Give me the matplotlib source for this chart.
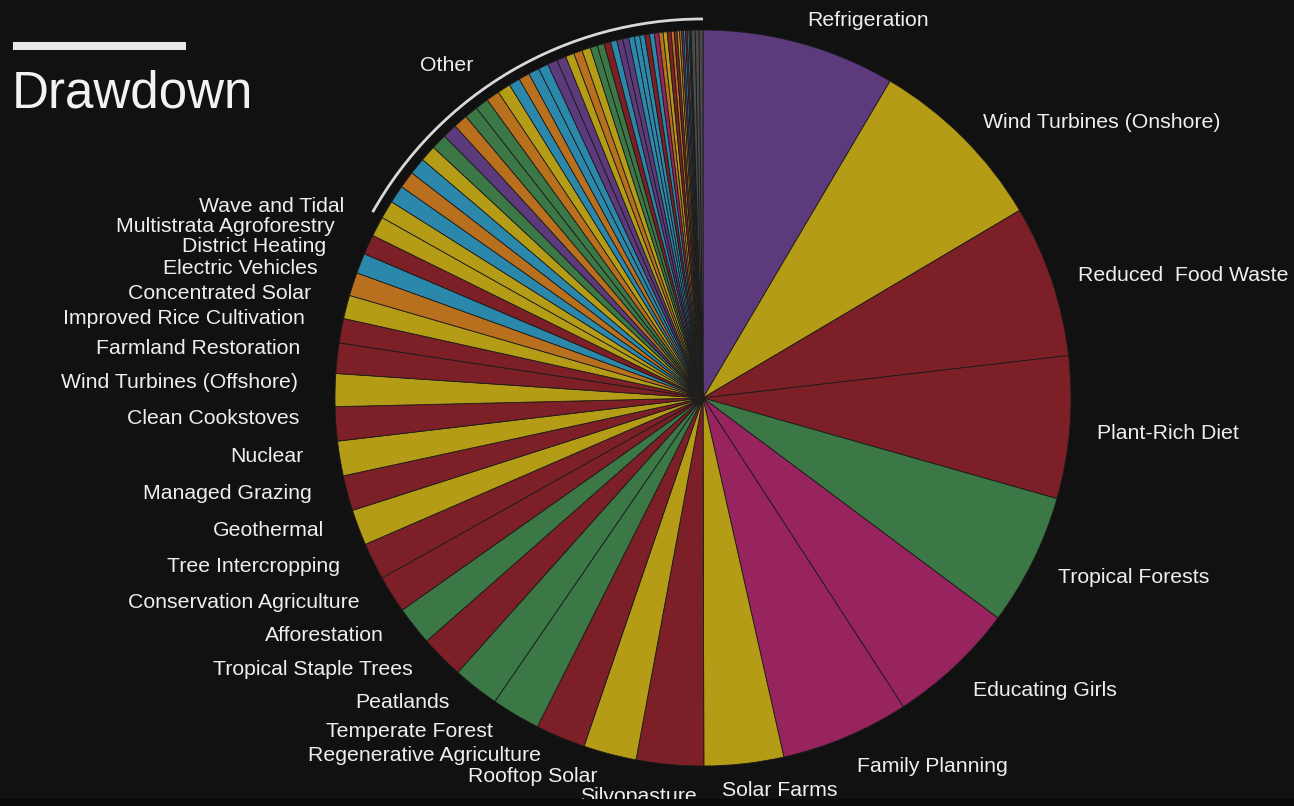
import numpy as np
import matplotlib.pyplot as plt
from matplotlib.patches import Arc, Rectangle

# labelled solutions (Gt CO2 reduced) and their sector
names = ['Refrigeration', 'Wind Turbines (Onshore)', 'Reduced  Food Waste', 'Plant-Rich Diet',
         'Tropical Forests', 'Educating Girls', 'Family Planning', 'Solar Farms', 'Silvopasture',
         'Rooftop Solar', 'Regenerative Agriculture', 'Temperate Forest', 'Peatlands',
         'Tropical Staple Trees', 'Afforestation', 'Conservation Agriculture', 'Tree Intercropping',
         'Geothermal', 'Managed Grazing', 'Nuclear', 'Clean Cookstoves', 'Wind Turbines (Offshore)',
         'Farmland Restoration', 'Improved Rice Cultivation', 'Concentrated Solar',
         'Electric Vehicles', 'District Heating', 'Multistrata Agroforestry', 'Wave and Tidal']
values = [89.74, 84.60, 70.53, 66.11, 61.23, 59.60, 59.60, 36.90, 31.19, 24.60, 23.15, 22.61,
          21.57, 20.19, 18.06, 17.35, 17.20, 16.60, 16.34, 16.09, 15.81, 15.20, 14.08, 11.34,
          10.90, 10.80, 9.38, 9.28, 9.20]
sectors = ['M', 'E', 'F', 'F', 'L', 'W', 'W', 'E', 'F', 'E', 'F', 'L', 'L', 'F', 'L', 'F', 'F',
           'E', 'F', 'E', 'F', 'E', 'F', 'F', 'E', 'T', 'B', 'F', 'E']

# the rest, grouped as "Other"
other_names = ['Methane Digesters (Large)', 'Insulation', 'Ships', 'LED Lighting (Household)',
               'Biomass', 'Bamboo', 'Alternative Cement', 'Mass Transit', 'Forest Protection',
               'Indigenous Land Management', 'Trucks', 'Solar Water', 'Heat Pumps', 'Airplanes',
               'LED Lighting (Commercial)', 'Building Automation', 'Water Saving - Home',
               'Bioplastic', 'In-Stream Hydro', 'Cars', 'Cogeneration', 'Perennial Biomass',
               'Coastal Wetlands', 'Rice Intensification', 'Walkable Cities',
               'Household Recycling', 'Industrial Recycling', 'Smart Thermostats',
               'Landfill Methane', 'Bike Infrastructure', 'Composting', 'Smart Glass',
               'Women Smallholders', 'Telepresence', 'Methane Digesters (Small)',
               'Nutrient Management', 'High-speed Rail', 'Farmland Irrigation', 'Waste-to-Energy',
               'Electric Bikes', 'Recycled Paper', 'Water Distribution', 'Biochar', 'Green Roofs',
               'Trains', 'Ridesharing', 'Micro Wind', 'Energy Storage', 'Grid Flexibility',
               'Microgrids']
other_values = [8.40, 8.27, 7.87, 7.81, 7.50, 7.22, 6.69, 6.57, 6.20, 6.19, 6.18, 6.08, 5.20,
                5.05, 5.04, 4.62, 4.61, 4.30, 4.00, 4.00, 3.97, 3.33, 3.19, 3.13, 2.92, 2.77,
                2.77, 2.62, 2.50, 2.31, 2.28, 2.19, 2.06, 1.99, 1.90, 1.81, 1.42, 1.33, 1.10,
                0.96, 0.90, 0.87, 0.81, 0.77, 0.52, 0.32, 0.20, 1.8, 1.8, 1.8]
other_sectors = ['E', 'B', 'T', 'B', 'E', 'L', 'M', 'T', 'L', 'L', 'T', 'E', 'B', 'T', 'B', 'B',
                 'M', 'M', 'E', 'T', 'E', 'L', 'L', 'F', 'B', 'M', 'M', 'B', 'B', 'B', 'F', 'B',
                 'W', 'T', 'E', 'F', 'T', 'F', 'E', 'T', 'M', 'B', 'F', 'B', 'T', 'T', 'E', 'X',
                 'X', 'X']

sector_colors = {'M': '#5c3a7c', 'E': '#b49c16', 'F': '#7c1f26', 'L': '#3b7846',
                 'W': '#97235f', 'B': '#2b88ab', 'T': '#b8701e', 'X': '#4a4a4a'}

bg = '#111111'
W, H = 1294, 806
cx, cy, R = 703, 398, 368

fig = plt.figure(figsize=(W / 100, H / 100), dpi=100, facecolor=bg)
ax = fig.add_axes([0, 0, 1, 1])
ax.set_facecolor(bg)

all_values = values + other_values
colors = [sector_colors[s] for s in sectors + other_sectors]
labels = names + [''] * len(other_values)

wedges, texts = ax.pie(all_values, colors=colors, labels=labels, startangle=90,
                       counterclock=False, labeldistance=1.075,
                       wedgeprops=dict(edgecolor='#1c1c1c', linewidth=0.6),
                       textprops=dict(color='#eeeeee', fontsize=15.3, family='Liberation Sans'))

# nudge labels a little (pixels -> data units)
px = 1.0 / R
for t in texts:
    if not t.get_text():
        continue
    x, y = t.get_position()
    if x < 0:
        t.set_position((x - 9 * px, y + 7 * px))
    else:
        t.set_position((x, y - 4 * px))

# the crowded labels at the bottom are moved by hand in the original
moved = {'Silvopasture': (697, 797, 'right'),
         'Solar Farms': (722, 790, 'left'),
         'Rooftop Solar': (597, 777, 'right')}
for t in texts:
    if t.get_text() in moved:
        mx, my, mha = moved[t.get_text()]
        t.set_position(((mx - cx) * px, (cy - my) * px))
        t.set_ha(mha)

ax.set_xlim(-cx / R, (W - cx) / R)
ax.set_ylim(-(H - cy) / R, cy / R)
ax.set_aspect('equal')
ax.axis('off')

# bracket round the "Other" group
other_deg = 360 * sum(other_values) / sum(all_values)
ax.add_patch(Arc((0, 0), 2.06, 2.06, theta1=90, theta2=90 + other_deg,
                 color='#d8d8d8', lw=2))
ang = np.deg2rad(90 + other_deg * 0.62)
ax.text(1.14 * np.cos(ang), 1.14 * np.sin(ang), 'Other', color='#eeeeee', fontsize=15.3,
        family='Liberation Sans', ha='center', va='center')

# title block
fig.patches.append(Rectangle((13 / W, 1 - 50 / H), 173 / W, 8 / H, transform=fig.transFigure,
                             facecolor='#e8e8e8', edgecolor='none', zorder=5))
fig.text(12 / W, 1 - 107 / H, 'Drawdown', color='#f2f2f2', fontsize=36.8,
         family='Liberation Sans', ha='left', va='baseline')

# dark strip along the bottom edge
fig.patches.append(Rectangle((0, 0), 1, 7 / H, transform=fig.transFigure,
                             facecolor='#0a0a0a', edgecolor='none', zorder=5))

fig.savefig('out.png', dpi=100, facecolor=bg)
